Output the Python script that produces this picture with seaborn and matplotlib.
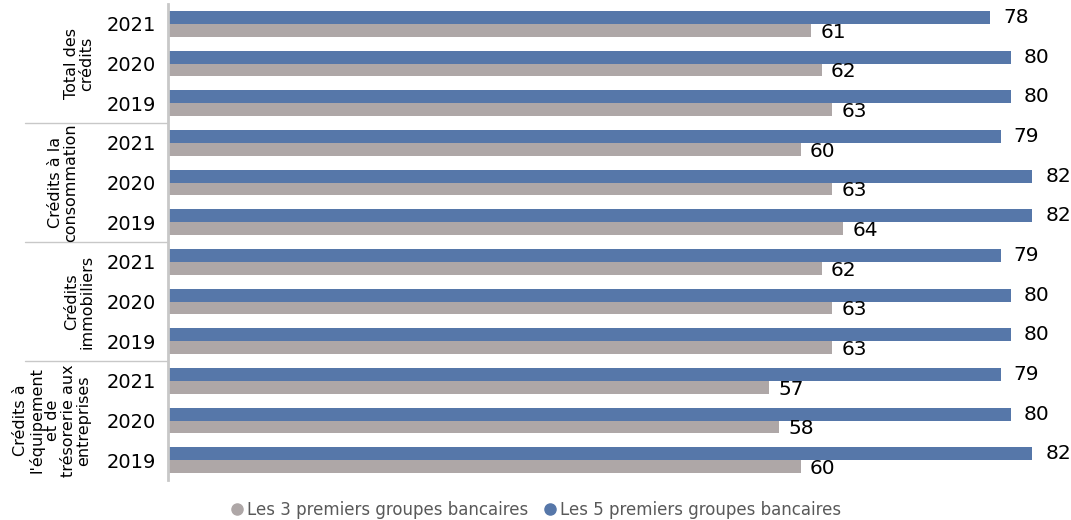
import matplotlib
matplotlib.use("Agg")
import matplotlib.pyplot as plt
from matplotlib.lines import Line2D
import seaborn as sns
import pandas as pd

# Credit categories (top to bottom) and years within each category
groups = [
    "Total des\ncrédits",
    "Crédits à la\nconsommation",
    "Crédits\nimmobiliers",
    "Crédits à\nl'équipement\net de\ntrésorerie aux\nentreprises",
]
years = ["2021", "2020", "2019"]

series_top5 = "Les 5 premiers groupes bancaires"
series_top3 = "Les 3 premiers groupes bancaires"

# Market share (%) per category, ordered 2021, 2020, 2019
top5_values = [78, 80, 80, 79, 82, 82, 79, 80, 80, 79, 80, 82]
top3_values = [61, 62, 63, 60, 63, 64, 62, 63, 63, 57, 58, 60]

rows = []
row_ids = []
for gi, g in enumerate(groups):
    for yi, yr in enumerate(years):
        row_ids.append(f"{gi}-{yr}")
for i, rid in enumerate(row_ids):
    rows.append({"row": rid, "serie": series_top5, "val": top5_values[i]})
    rows.append({"row": rid, "serie": series_top3, "val": top3_values[i]})
df = pd.DataFrame(rows)

blue = "#5677A9"
grey = "#AEA7A7"

sns.set_style("white")
plt.rcParams["font.family"] = ["DejaVu Sans"]

fig = plt.figure(figsize=(10.71, 5.2), dpi=100)
ax = fig.add_axes([168 / 1071, 1 - 480 / 520, (1062 - 168) / 1071, 476 / 520])

sns.barplot(
    data=df, y="row", x="val", hue="serie", order=row_ids,
    hue_order=[series_top5, series_top3],
    palette={series_top5: blue, series_top3: grey},
    orient="h", width=0.64, ax=ax, legend=False, saturation=1, linewidth=0,
)

ax.set_xlim(0, 84.8)
ax.set_ylim(len(row_ids) - 0.5, -0.5)
ax.set_xlabel("")
ax.set_ylabel("")
ax.set_xticks([])
ax.set_yticks(range(len(row_ids)))
ax.set_yticklabels([r.split("-")[1] for r in row_ids], fontsize=14, color="black")
ax.tick_params(axis="y", length=0, pad=9)

for s in ["top", "right", "bottom"]:
    ax.spines[s].set_visible(False)
ax.spines["left"].set_color("#C8C8C8")
ax.spines["left"].set_linewidth(2)

# Value labels at the end of each bar
for cont, off in zip(ax.containers, [(1.2, 0.0), (0.9, 0.05)]):
    for bar in cont:
        w = bar.get_width()
        yc = bar.get_y() + bar.get_height() / 2
        ax.text(w + off[0], yc + off[1], f"{w:.0f}",
                va="center", ha="left", fontsize=14.5, color="black")

# Group separators extending into the left margin
trans = matplotlib.transforms.blended_transform_factory(ax.transAxes, ax.transData)
x_left = (25 - 168) / (1062 - 168)
for b in [2.5, 5.5, 8.5]:
    ax.plot([x_left, 0], [b, b], color="#C8C8C8", lw=1, transform=trans, clip_on=False)

# Rotated category labels
group_x = [79, 63, 79, 52]
for gi, g in enumerate(groups):
    xa = (group_x[gi] - 168) / (1062 - 168)
    ax.text(xa, gi * 3 + 1, g, rotation=90, ha="center", va="center",
            fontsize=11.5, color="black", transform=trans, linespacing=1.05,
            multialignment="center")

handles = [
    Line2D([], [], marker="o", color="none", markerfacecolor=grey,
           markeredgecolor=grey, markersize=8, label=series_top3),
    Line2D([], [], marker="o", color="none", markerfacecolor=blue,
           markeredgecolor=blue, markersize=8, label=series_top5),
]
fig.legend(handles=handles, loc="center", bbox_to_anchor=(535 / 1071, 1 - 510 / 520),
           ncol=2, frameon=False, fontsize=12, handletextpad=0.1,
           columnspacing=0.8, handlelength=1.0, labelcolor="#595959")

fig.savefig("out.png", dpi=100)
